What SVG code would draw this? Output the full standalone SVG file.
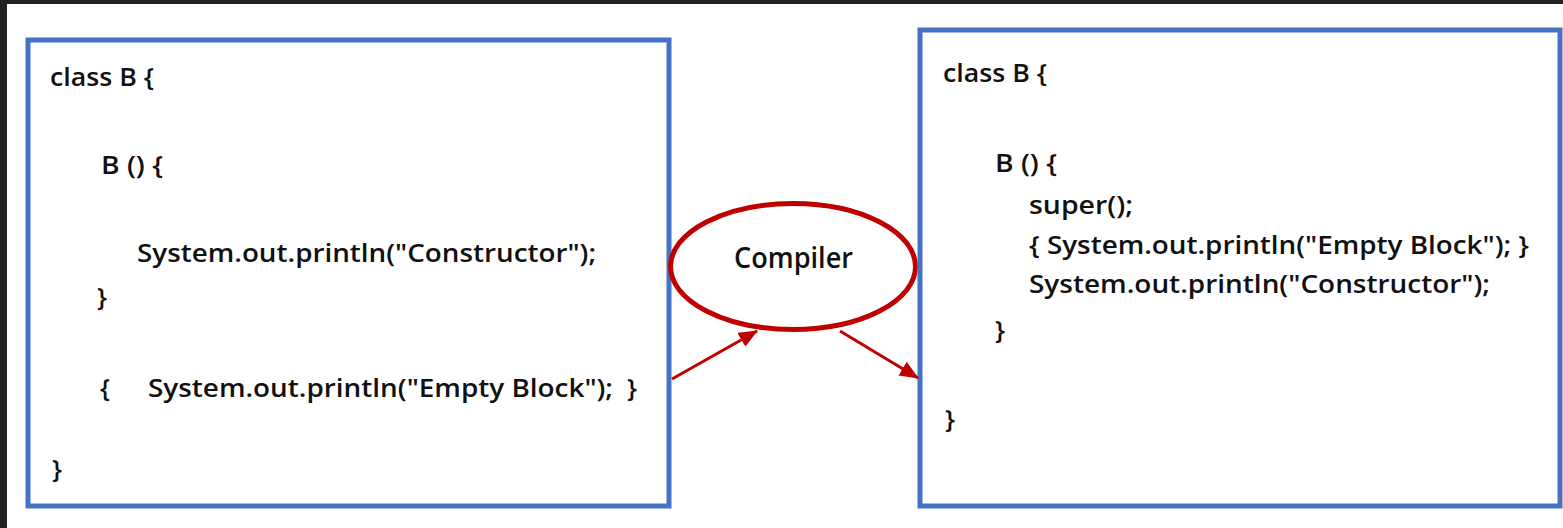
<svg xmlns="http://www.w3.org/2000/svg" width="1563" height="528" viewBox="0 0 1563 528">
  <defs>
    <style>
      .code { font-family: "Open Sans", "Liberation Sans", sans-serif; font-size: 26px; font-weight: 600; fill: #111; }
      .label { font-size: 28px; }
      .box { fill: #fff; stroke: #4472C4; stroke-width: 5; }
      .flow { stroke: #C00000; stroke-width: 3; fill: none; marker-end: url(#head); }
    </style>
    <marker id="head" markerUnits="userSpaceOnUse" markerWidth="19" markerHeight="16" refX="18" refY="8" orient="auto">
      <path d="M0,0 L19,8 L0,16 Z" fill="#C00000"/>
    </marker>
  </defs>

  <!-- page background and dark frame -->
  <rect x="0" y="0" width="1563" height="528" fill="#fff"/>
  <rect x="0" y="0" width="1563" height="4" fill="#222"/>
  <rect x="0" y="0" width="7" height="528" fill="#222"/>

  <!-- source class -->
  <g id="source">
    <rect class="box" x="28" y="40" width="641" height="466"/>
    <text class="code" x="50" y="86" textLength="104" lengthAdjust="spacingAndGlyphs">class B {</text>
    <text class="code" x="101" y="174" textLength="62" lengthAdjust="spacingAndGlyphs">B () {</text>
    <text class="code" x="137" y="262" textLength="459" lengthAdjust="spacingAndGlyphs">System.out.println("Constructor");</text>
    <text class="code" x="97" y="306">}</text>
    <text class="code" x="100" y="397">{</text>
    <text class="code" x="148" y="397" textLength="465" lengthAdjust="spacingAndGlyphs">System.out.println("Empty Block");</text>
    <text class="code" x="627" y="397">}</text>
    <text class="code" x="52" y="478">}</text>
  </g>

  <!-- compiler step -->
  <g id="compiler">
    <ellipse cx="793" cy="266.5" rx="122.5" ry="63" fill="#fff" stroke="#C00000" stroke-width="5"/>
    <text class="code label" x="793.5" y="268" text-anchor="middle" textLength="119" lengthAdjust="spacingAndGlyphs">Compiler</text>
  </g>

  <!-- compiled class -->
  <g id="compiled">
    <rect class="box" x="920" y="30" width="640" height="476"/>
    <text class="code" x="943" y="82" textLength="104" lengthAdjust="spacingAndGlyphs">class B {</text>
    <text class="code" x="995" y="172" textLength="62" lengthAdjust="spacingAndGlyphs">B () {</text>
    <text class="code" x="1029" y="214" textLength="104" lengthAdjust="spacingAndGlyphs">super();</text>
    <text class="code" x="1029" y="254" textLength="500" lengthAdjust="spacingAndGlyphs">{ System.out.println("Empty Block"); }</text>
    <text class="code" x="1029" y="293" textLength="461" lengthAdjust="spacingAndGlyphs">System.out.println("Constructor");</text>
    <text class="code" x="995" y="339">}</text>
    <text class="code" x="945" y="428">}</text>
  </g>

  <!-- connectors -->
  <g id="connectors">
    <line class="flow" x1="672" y1="379" x2="757" y2="331"/>
    <line class="flow" x1="840" y1="331" x2="918" y2="378"/>
  </g>
</svg>
